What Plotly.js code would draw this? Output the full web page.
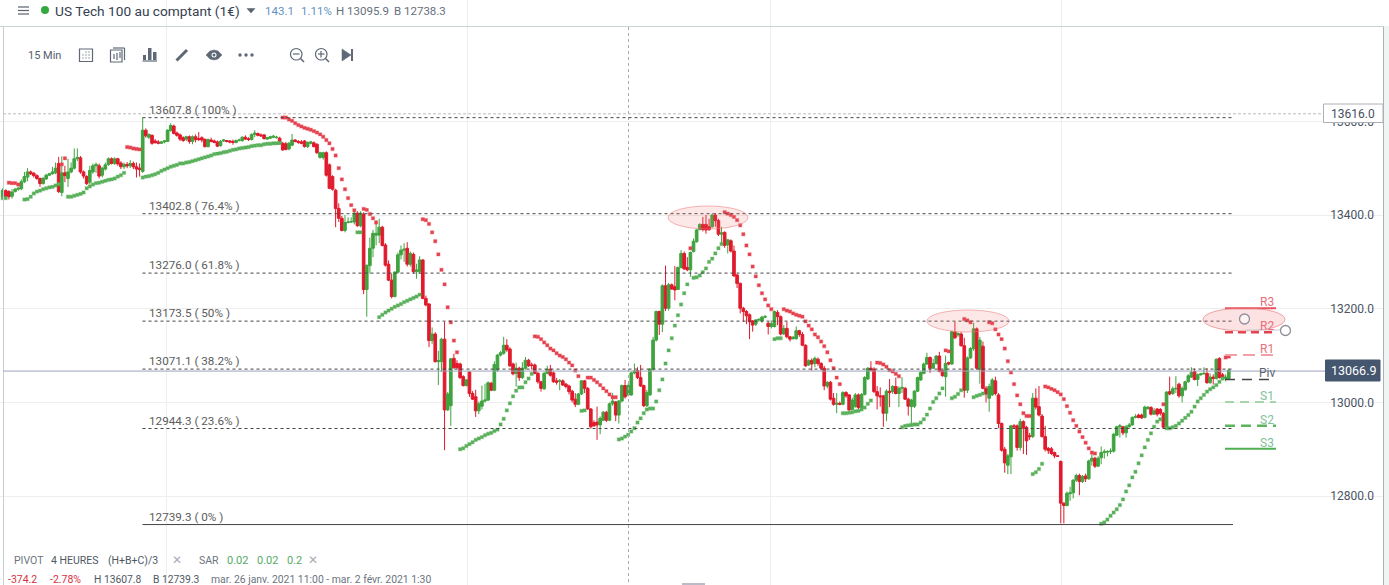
<!DOCTYPE html>
<html><head><meta charset="utf-8">
<script src="https://cdn.plot.ly/plotly-3.0.1.min.js"></script>
<style>html,body{margin:0;padding:0;background:#fff}#c{width:1389px;height:585px}</style>
</head><body><div id="c"></div>
<script>
const opens=[
13439,13452,13450,13440,13450,13455,13456,13471,13481,13492,
13489,13484,13478,13467,13477,13485,13488,13490,13510,13448,
13490,13478,13492,13500,13520,13522,13492,13482,13470,13492,
13505,13505,13485,13498,13508,13520,13510,13520,13511,13503,
13508,13505,13510,13503,13500,13493,13581,13566,13570,13558,
13556,13553,13556,13557,13580,13590,13575,13571,13565,13562,
13567,13557,13567,13563,13565,13561,13546,13560,13558,13556,
13548,13558,13559,13558,13557,13555,13559,13559,13566,13563,
13561,13572,13574,13571,13571,13562,13564,13566,13565,13564,
13553,13552,13541,13549,13560,13557,13556,13558,13546,13553,
13554,13551,13523,13523,13533,13507,13482,13453,13414,13393,
13367,13384,13385,13385,13404,13377,13402,13241,13292,13329,
13357,13357,13374,13336,13295,13261,13226,13278,13315,13325,
13329,13295,13316,13279,13279,13304,13222,13210,13132,13146,
13087,13087,13135,12984,12993,13094,13083,13082,13055,13036,
13065,13019,13012,12982,12992,13003,13005,13041,13026,13069,
13101,13105,13122,13114,13082,13062,13073,13053,13073,13090,
13080,13080,13062,13044,13029,13062,13071,13063,13046,13045,
13046,13039,13035,13024,13007,12996,13018,13046,13030,12986,
12957,12958,12952,12962,12979,12962,12997,13001,12973,13003,
13036,13016,13016,13063,13068,13053,13036,12993,13016,13071,
13133,13194,13167,13249,13201,13251,13247,13241,13288,13318,
13288,13283,13322,13343,13369,13380,13380,13375,13375,13400,
13388,13359,13363,13336,13345,13323,13272,13254,13201,13194,
13187,13174,13167,13176,13174,13182,13169,13162,13162,13192,
13183,13146,13158,13140,13136,13136,13153,13145,13122,13080,
13090,13083,13092,13083,13073,13035,13043,13009,12996,12998,
12996,13021,13016,12985,12991,13016,12989,13017,13050,13073,
13071,13023,13014,13014,12977,13024,13023,13034,13019,13030,
13030,13007,12991,12992,13024,13048,13062,13082,13096,13073,
13083,13099,13068,13055,13085,13082,13150,13144,13146,13121,
13026,13095,13115,13157,13071,13120,13030,13009,13016,13046,
13016,12955,12900,12866,12884,12950,12950,12904,12959,12947,
12929,12927,13009,12991,12971,12927,12902,12901,12893,12886,
12874,12785,12780,12805,12807,12834,12844,12831,12843,12837,
12875,12881,12864,12882,12893,12894,12895,12896,12930,12948,
12948,12935,12948,12952,12968,12973,12973,12968,12987,12989,
12975,12986,12985,12977,12947,13023,13019,13029,13039,13014,
13027,13044,13054,13066,13049,13059,13061,13062,13042,13054,
13051,13094,13059,13051,13051];
const highs=[
13457,13455,13453,13455,13458,13460,13476,13492,13500,13495,
13492,13487,13480,13481,13488,13490,13503,13512,13524,13525,
13505,13520,13512,13542,13542,13526,13495,13485,13505,13510,
13512,13510,13503,13512,13523,13523,13523,13522,13515,13512,
13513,13517,13514,13512,13510,13608,13585,13574,13572,13562,
13560,13558,13560,13583,13596,13593,13578,13574,13568,13569,
13570,13570,13572,13577,13568,13564,13563,13565,13561,13559,
13560,13562,13560,13560,13561,13561,13563,13568,13570,13566,
13574,13581,13576,13574,13573,13567,13569,13571,13569,13567,
13556,13556,13556,13573,13562,13560,13560,13560,13557,13558,
13557,13553,13535,13535,13536,13510,13485,13456,13425,13398,
13400,13395,13395,13408,13408,13408,13406,13295,13352,13368,
13389,13392,13377,13340,13303,13275,13280,13320,13335,13340,
13342,13322,13320,13296,13312,13306,13228,13212,13160,13150,
13110,13138,13172,13022,13095,13104,13090,13085,13058,13050,
13066,13024,13027,13002,13036,13040,13045,13044,13088,13103,
13110,13140,13135,13118,13085,13085,13076,13086,13097,13093,
13085,13083,13065,13046,13065,13078,13080,13066,13052,13050,
13049,13042,13038,13027,13020,13020,13048,13048,13033,12988,
12962,12991,12970,12982,12982,13000,13020,13003,13005,13038,
13048,13040,13066,13083,13075,13080,13038,13027,13073,13140,
13196,13196,13252,13292,13255,13254,13291,13290,13325,13322,
13310,13322,13350,13370,13382,13396,13400,13392,13402,13404,
13392,13375,13365,13349,13348,13335,13274,13256,13204,13197,
13190,13176,13178,13180,13185,13187,13172,13175,13196,13197,
13186,13165,13172,13142,13142,13162,13155,13150,13124,13092,
13094,13098,13096,13086,13078,13045,13046,13020,13020,13002,
13024,13024,13018,13010,13020,13019,13020,13056,13075,13088,
13075,13035,13032,13016,13028,13050,13037,13053,13034,13054,
13033,13010,13008,13026,13055,13066,13085,13106,13098,13093,
13101,13108,13070,13100,13087,13153,13172,13150,13150,13138,
13098,13118,13170,13160,13140,13130,13035,13040,13052,13055,
13020,12957,12905,12890,12952,12954,12953,12965,12962,12950,
12935,13020,13030,13035,12975,12950,12905,12905,12895,12887,
12876,12787,12810,12820,12836,12848,12848,12845,12848,12878,
12890,12884,12885,12906,12900,12898,12902,12935,12950,12954,
12950,12952,12956,12970,12975,12976,12976,12993,12992,12992,
12988,12988,12988,12979,13024,13055,13034,13056,13042,13034,
13046,13060,13075,13072,13062,13063,13075,13073,13062,13060,
13094,13096,13063,13060,13072];
const lows=[
13436,13436,13433,13435,13448,13452,13453,13468,13472,13485,
13480,13475,13460,13465,13475,13483,13486,13487,13447,13440,
13470,13460,13489,13497,13515,13488,13478,13464,13465,13488,
13490,13478,13480,13495,13505,13508,13507,13505,13498,13498,
13500,13500,13498,13480,13482,13490,13565,13562,13550,13552,
13551,13552,13553,13556,13578,13572,13567,13558,13556,13558,
13552,13551,13555,13558,13555,13544,13544,13555,13553,13545,
13546,13556,13555,13553,13550,13553,13557,13556,13560,13558,
13559,13566,13568,13567,13561,13560,13562,13564,13563,13550,
13537,13538,13538,13547,13555,13552,13551,13544,13543,13551,
13544,13530,13520,13518,13482,13455,13452,13374,13385,13365,
13363,13382,13383,13380,13375,13374,13231,13183,13275,13310,
13335,13340,13333,13290,13259,13222,13224,13275,13305,13300,
13290,13290,13275,13264,13275,13220,13205,13118,13125,13085,
13037,13065,12898,12982,12950,13072,13072,13050,13034,13034,
13012,13005,12969,12975,12985,13000,13003,13024,13024,13065,
13098,13102,13108,13076,13058,13034,13046,13050,13070,13076,
13070,13060,13040,13023,13027,13060,13055,13042,13038,13026,
13035,13030,13017,13000,12990,12994,13016,13020,12984,12944,
12948,12920,12932,12960,12958,12960,12993,12960,12955,13000,
13008,13013,13014,13060,13050,13033,12990,12990,13014,13068,
13130,13144,13150,13195,13196,13240,13218,13240,13286,13283,
13280,13268,13320,13341,13367,13365,13360,13366,13373,13375,
13355,13340,13330,13318,13320,13268,13244,13190,13172,13167,
13135,13151,13163,13172,13170,13180,13145,13158,13160,13165,
13143,13144,13137,13130,13134,13134,13140,13120,13076,13078,
13068,13075,13078,13068,13026,13030,13004,12993,12977,12994,
12994,13010,12982,12983,12989,12986,12987,13015,13048,13066,
13020,12985,12991,12948,12960,12990,13018,13017,12990,13020,
13005,12972,12948,12988,13022,13046,13060,13080,13063,13071,
13081,13064,13055,13012,13079,13080,13135,13140,13119,13010,
13020,13093,13110,13070,13040,13028,13000,12980,13014,13015,
12945,12895,12850,12847,12847,12945,12897,12897,12890,12888,
12920,12924,12985,12970,12925,12895,12890,12888,12881,12884,
12742,12742,12778,12790,12795,12830,12802,12828,12830,12835,
12865,12860,12862,12868,12880,12885,12890,12893,12928,12925,
12930,12925,12946,12950,12966,12966,12965,12966,12984,12972,
12973,12970,12972,12944,12945,13015,13016,13020,13010,13000,
13025,13042,13052,13047,13035,13057,13059,13040,13040,13038,
13049,13051,13050,13045,13049];
const closes=[
13453,13439,13439,13449,13455,13457,13471,13482,13492,13488,
13484,13478,13467,13478,13485,13488,13492,13500,13450,13490,
13484,13492,13500,13520,13523,13492,13483,13467,13495,13505,
13508,13483,13500,13507,13520,13510,13520,13509,13503,13508,
13505,13510,13503,13498,13497,13581,13569,13572,13553,13555,
13553,13556,13558,13581,13591,13574,13570,13562,13559,13567,
13557,13567,13561,13561,13560,13546,13561,13557,13555,13547,
13557,13560,13557,13556,13555,13559,13560,13566,13562,13561,
13572,13575,13570,13569,13563,13565,13567,13568,13566,13552,
13539,13540,13553,13560,13557,13555,13553,13546,13555,13556,
13546,13533,13533,13533,13485,13457,13455,13414,13393,13367,
13384,13385,13386,13404,13377,13404,13241,13292,13329,13361,
13361,13374,13335,13293,13261,13226,13278,13315,13325,13327,
13295,13318,13279,13283,13304,13222,13208,13132,13146,13087,
13089,13135,12984,13018,13093,13074,13074,13053,13036,13048,
13019,13007,12982,12997,13003,13005,13042,13026,13081,13101,
13106,13122,13112,13078,13061,13073,13053,13073,13090,13078,
13079,13062,13044,13030,13062,13071,13058,13044,13043,13046,
13037,13034,13023,13005,12996,13018,13046,13030,12986,12948,
12950,12952,12966,12979,12962,12997,13003,12973,13003,13036,
13012,13036,13063,13067,13053,13035,12993,13021,13071,13133,
13194,13167,13249,13201,13251,13242,13240,13288,13318,13285,
13283,13320,13344,13368,13380,13369,13368,13369,13400,13388,
13359,13362,13335,13347,13323,13270,13254,13201,13194,13185,
13172,13165,13176,13177,13182,13183,13162,13168,13194,13183,
13146,13158,13140,13135,13139,13153,13145,13122,13078,13089,
13082,13094,13083,13073,13035,13043,13007,12996,12998,12996,
13021,13014,12984,13005,13016,12989,13017,13053,13073,13069,
13023,13014,13012,12977,13024,13021,13034,13019,13030,13032,
13007,12992,13005,13024,13053,13064,13082,13096,13073,13083,
13099,13066,13057,13083,13082,13151,13138,13147,13121,13026,
13095,13115,13157,13073,13133,13030,13018,13034,13048,13019,
12955,12898,12871,12886,12950,12948,12904,12959,12945,12918,
12927,13009,12990,12973,12927,12900,12897,12891,12886,12885,
12785,12780,12806,12807,12834,12844,12831,12842,12837,12875,
12881,12864,12881,12893,12895,12895,12896,12932,12948,12950,
12935,12948,12952,12968,12970,12968,12967,12990,12990,12975,
12982,12975,12977,12947,13022,13018,13029,13030,13014,13030,
13044,13057,13064,13049,13059,13061,13062,13042,13054,13051,
13092,13053,13053,13054,13069];

// SAR dots: [first candle index, values...]
const sarRedRuns=[
[2,[13469,13468,13468,13465]],
[19,[13508,13521]],
[40,[13545,13544,13542,13541,13540]],
[90,[13608,13608,13604,13601,13596,13592,13589,13586,13584,13582,13579,13576,13572,13567,13560,13553,13541,13527,13500,13476,13455,13436,13421,13410]],
[116,[13413,13411,13402,13393,13384]],
[135,[13391,13389,13381,13363,13344,13316,13283,13252,13203,13171,13132,13107]],
[171,[13141,13140,13135,13128,13122,13115,13111,13105,13100,13097,13092,13085,13079,13068,13056]],
[188,[13053,13053,13048,13043,13037,13030,13024,13017,13011,13011]],
[221,[13329]],
[232,[13406,13403,13400,13396,13389,13378,13359,13335,13316,13290,13269,13250,13233,13220,13207,13199]],
[251,[13199,13196,13194,13190,13187,13185,13183,13173,13164,13156,13145,13139,13130,13120,13107,13090,13073,13053,13039]],
[281,[13085,13084,13081,13076,13069,13066,13061,13056]],
[303,[13111,13109]],
[309,[13178,13175,13171]],
[317,[13171,13169,13156,13145,13135,13115,13088,13064,13039,13015,12996,12977,12971,12971]],
[335,[13034,13032,13029,13026,13022,13017,13007,12992,12978,12962,12950,12938,12926,12914,12902,12893,12891]],
[373,[12996]],
[393,[13096,13098]]];
const sarGreenRuns=[
[0,[13436,13436]],
[7,[13433,13434,13439,13446,13450,13452,13455,13457,13459,13460,13463,13466]],
[21,[13439,13439,13441,13443,13445,13448,13457,13461,13465,13468,13469,13471,13473,13475,13476,13478,13482,13485,13490]],
[45,[13480,13482,13483,13485,13487,13490,13494,13497,13500,13503,13505,13507,13510,13510,13512,13513,13515,13517,13519,13521,13523,13525,13527,13530,13531,13532,13534,13535,13537,13539,13540,13542,13543,13544,13545,13547,13548,13549,13549,13551,13552,13552,13553,13553,13554]],
[114,[13363,13363]],
[121,[13182,13187,13192,13196,13200,13204,13207,13210,13214,13217,13220,13223,13226,13230]],
[147,[12900,12902,12907,12911,12915,12920,12923,12926,12930,12933,12935,12939,12942,12953,12965,12983,12998,13013,13025,13032,13032,13043,13051,13061]],
[186,[12982,12983]],
[198,[12921,12923,12927,12931,12938,12945,12957,12966,12977,12985,12987,12987,13002,13026,13049,13083,13111,13137,13164,13186,13209,13233,13252]],
[222,[13266,13267,13271,13278,13286,13300,13307,13318,13329,13338]],
[248,[13135,13137,13137]],
[270,[12977,12977,12978,12979,12981,12982,12985,12989,12997,13004]],
[289,[12947,12950,12951,12952,12953,12953,12957,12964,12974,12987,13001,13009,13019,13030]],
[305,[13009,13012,13018,13026]],
[312,[13011,13014,13016,13019]],
[331,[12847,12851,12858,12869]],
[353,[12741,12744,12750,12758,12765,12772,12781,12793,12810,12823,12840,12852,12870,12887,12904,12920,12934,12948,12959,12964]],
[374,[12945,12945,12947,12950,12955,12961,12967,12973,12980,12991,13002,13009,13016,13023,13028,13032,13037,13044,13051]]];

const fibLevels=[13607.8,13402.8,13276.0,13173.5,13071.1,12944.3,12739.3];
const fibLabels=['13607.8 ( 100% )','13402.8 ( 76.4% )','13276.0 ( 61.8% )','13173.5 ( 50% )','13071.1 ( 38.2% )','12944.3 ( 23.6% )','12739.3 ( 0% )'];
const pivotNames=['R3','R2','R1','Piv','S1','S2','S3'];
const pivotLevels=[13201,13150,13101,13049,13001,12950,12901];
const pivotColors=['#e5535f','#e5404e','#f0a0a6','#444444','#a5d6a8','#5cb45e','#4fae52'];
const pivotLabelColors=['#e8707a','#e8707a','#e8707a','#5a6270','#7fbf9a','#7fbf9a','#7fbf9a'];
const pivotWidths=[2,2.5,2,1.5,2,2.5,2];
const pivotDash=['solid','8px,5px','12px,6px','10px,7px','9px,6px','10px,6px','solid'];
const yTicks=[12800,13000,13200,13400,13600];
const dayGrid=[52.8,149.5,246.6,340.1,437.2];
const lastPrice=13066.9, markerPrice=13616.0;

const W=1389,H=585;
const px=x=>x/W, py=y=>1-y/H;
const idx=p=>(p-2.66)/3.112;
const i_=opens.map((_,i)=>i);
if(![highs,lows,closes].every(a=>a.length===opens.length)) console.error('length mismatch',opens.length,highs.length,lows.length,closes.length);
function expand(runs){const x=[],y=[];runs.forEach(r=>r[1].forEach((v,k)=>{x.push(r[0]+k);y.push(v);}));return{x,y};}
const red=expand(sarRedRuns),green=expand(sarGreenRuns);

const traces=[
{type:'candlestick',x:i_,open:opens,high:highs,low:lows,close:closes,hoverinfo:'skip',whiskerwidth:0,
 increasing:{line:{color:'#3fa33f',width:1},fillcolor:'#3fa33f'},
 decreasing:{line:{color:'#e01a2c',width:1},fillcolor:'#e01a2c'}},
{type:'scatter',mode:'markers',x:red.x,y:red.y,hoverinfo:'skip',
 marker:{symbol:'square',size:3.2,color:'#e5414e',line:{color:'rgba(229,65,78,.3)',width:1.2}}},
{type:'scatter',mode:'markers',x:green.x,y:green.y,hoverinfo:'skip',
 marker:{symbol:'square',size:3.2,color:'#58b05a',line:{color:'rgba(88,176,90,.3)',width:1.2}}}
];

const shapes=[], ann=[];
function pline(x0,y0,x1,y1,c,w,d,layer){shapes.push({type:'line',xref:'paper',yref:'paper',x0:px(x0),y0:py(y0),x1:px(x1),y1:py(y1),line:{color:c,width:w||1,dash:d||'solid'},layer:layer||'above'});}
function prect(x0,y0,x1,y1,fill,lc,lw){shapes.push({type:'rect',xref:'paper',yref:'paper',x0:px(x0),y0:py(y0),x1:px(x1),y1:py(y1),fillcolor:fill||'rgba(0,0,0,0)',line:{color:lc||'rgba(0,0,0,0)',width:lw===undefined?1:lw}});}
function pcirc(x0,y0,x1,y1,fill,lc,lw){shapes.push({type:'circle',xref:'paper',yref:'paper',x0:px(x0),y0:py(y0),x1:px(x1),y1:py(y1),fillcolor:fill||'rgba(0,0,0,0)',line:{color:lc||'rgba(0,0,0,0)',width:lw===undefined?1:lw}});}
function ppath(pts,fill,lc,lw,closed){const d=pts.map((p,i)=>(i?'L':'M')+px(p[0])+' '+py(p[1])).join(' ')+(closed?' Z':'');shapes.push({type:'path',xref:'paper',yref:'paper',path:d,fillcolor:fill||'rgba(0,0,0,0)',line:{color:lc||'rgba(0,0,0,0)',width:lw===undefined?1:lw}});}
function txt(x,y,t,size,color,anchor,fam){ann.push({xref:'paper',yref:'paper',x:px(x),y:py(y),text:t,showarrow:false,xanchor:anchor||'left',yanchor:'middle',font:{family:fam||'Roboto, sans-serif',size:size,color:color},borderpad:0,borderwidth:0});}

// frame
prect(1384,26,1389,585,'#eef5f3','#eef5f3',0);
pline(0,26.5,1384,26.5,'#c8d6d3',1);
pline(3.5,27,3.5,585,'#c9cdcd',1);
pline(1383.5,27,1383.5,585,'#aeaeb4',1);
// crosshair
pline(628.5,27,628.5,583,'#a9a9bb',1,'3px,3px');
pline(682,584,705,584,'#a5a3b5',1.5);
// last-price and marker lines
shapes.push({type:'line',xref:'paper',yref:'y',x0:px(3),x1:px(1325),y0:lastPrice,y1:lastPrice,line:{color:'#9aa3b8',width:1}});
shapes.push({type:'line',xref:'paper',yref:'y',x0:px(3),x1:px(1323),y0:markerPrice,y1:markerPrice,line:{color:'#bdbdbd',width:1,dash:'3px,2px'}});
// Fibonacci retracement
fibLevels.forEach((v,i)=>{
 const solid=i===fibLevels.length-1;
 shapes.push({type:'line',xref:'x',yref:'y',x0:idx(142.5),x1:idx(solid?1233:1232),y0:v,y1:v,line:{color:'#444',width:1,dash:solid?'solid':'3px,3px'}});
 ann.push({xref:'x',yref:'y',x:idx(147.5),y:v,text:fibLabels[i],showarrow:false,xanchor:'left',yanchor:'bottom',yshift:0,font:{family:'Roboto, sans-serif',size:11.7,color:'#5c5c5c'},borderpad:0});
});
// Pivot levels
pivotLevels.forEach((v,i)=>{
 shapes.push({type:'line',xref:'x',yref:'y',x0:idx(1225),x1:idx(1276),y0:v,y1:v,line:{color:pivotColors[i],width:pivotWidths[i],dash:pivotDash[i]}});
 ann.push({xref:'x',yref:'y',x:idx(1267),y:v,text:pivotNames[i],showarrow:false,xanchor:'center',yanchor:'bottom',yshift:-2,font:{family:'Roboto, sans-serif',size:12,color:pivotLabelColors[i]},borderpad:0});
});
// Highlight ellipses
pcirc(668,206,748,229,'rgba(240,110,110,.16)','rgba(235,120,120,.55)',1);
pcirc(927,310,1009,332,'rgba(240,110,110,.16)','rgba(235,120,120,.55)',1);
pcirc(1203,308,1285,331,'rgba(240,110,110,.2)','rgba(235,120,120,.65)',1);
pline(1245,330,1280,330,'#c9c9d2',1);
pcirc(1239.5,314,1249.5,324,'rgba(255,255,255,.6)','#8f8f9c',1.3);
pcirc(1280.5,325.5,1290.5,335.5,'rgba(255,255,255,.8)','#8f8f9c',1.3);
// price boxes
prect(1323.5,104,1383,122.5,'#ffffff','#aeaeb8',1);
ann.push({xref:'paper',yref:'paper',x:px(1353),y:py(114),text:'13616.0',showarrow:false,xanchor:'center',yanchor:'middle',font:{family:'Roboto, sans-serif',size:12,color:'#46505e'}});
shapes.push({type:'rect',xref:'paper',yref:'paper',x0:px(1325.5),x1:px(1380),y0:py(360),y1:py(381),fillcolor:'#45566f',line:{color:'#45566f',width:1}});
ann.push({xref:'paper',yref:'paper',x:px(1353),y:py(370.5),text:'13066.9',showarrow:false,xanchor:'center',yanchor:'middle',font:{family:'Roboto, sans-serif',size:12.5,color:'#ffffff'}});

// header
const ic='#5f6876';
[7,10.5,14].forEach(y=>pline(18,y,29,y,'#596270',1.2));
pcirc(41,6,49,14,'#35a83f','#35a83f',0);
txt(54.5,10.5,'US Tech 100 au comptant (1€)',13.7,'#36404f');
ppath([[247,8.5],[255,8.5],[251,13]],'#5a6270','#5a6270',.5,true);
txt(265,11,'143.1',11.5,'#5f93c4');
txt(301,11,'1.11%',11.5,'#5f93c4');
txt(336,11,'H 13095.9',11.5,'#66707c');
txt(394,11,'B 12738.3',11.5,'#66707c');
// toolbar
txt(28,56,'15 Min',11,'#56606e');
shapes.push({type:'rect',xref:'paper',yref:'paper',x0:px(79.5),x1:px(92.5),y0:py(49),y1:py(61.5),line:{color:ic,width:1.2},fillcolor:'rgba(0,0,0,0)'});
[[83,55],[86,55],[89,55],[83,58],[86,58],[89,58],[86,52],[89,52]].forEach(p=>prect(p[0]-.6,p[1]-.6,p[0]+.6,p[1]+.6,ic,ic,0));
prect(110.5,50,122,62,'rgba(0,0,0,0)',ic,1.2);
pline(113,48,124.5,48,ic,1.2);pline(124.5,48,124.5,60,ic,1.2);
pline(114,54,114,59,ic,1.2);pline(117,53,117,60,ic,1.2);pline(120,52,120,58,ic,1.2);
prect(143,55,146,60,ic,ic,0);prect(148,48,151.5,60,ic,ic,0);prect(153,52,156.5,60,ic,ic,0);pline(142.5,61,157,61,ic,1.2);
pline(176.5,60.5,187,50,ic,3);
ppath([[206,55],[210,51],[214,50],[218,51],[222,55],[218,59],[214,60],[210,59]],ic,ic,.5,true);
pcirc(211.5,52.5,216.5,57.5,'#ffffff','#ffffff',0);pcirc(212.5,53.5,215.5,56.5,ic,ic,0);
[240,246,252].forEach(x=>pcirc(x-1.7,53.3,x+1.7,56.7,ic,ic,0));
pcirc(290.5,48.5,302,60,'rgba(0,0,0,0)',ic,1.2);pline(293,54,299.5,54,ic,1.2);pline(300.5,58.5,304,62,ic,1.6);
pcirc(315.5,48.5,327,60,'rgba(0,0,0,0)',ic,1.2);pline(318,54,324.5,54,ic,1.2);pline(321,51,321,57.5,ic,1.2);pline(325.5,58.5,329,62,ic,1.6);
ppath([[342,49],[351,55],[342,61]],ic,ic,.5,true);prect(351,49,353,61,ic,ic,0);
// bottom legend
txt(14,560,'PIVOT',10.5,'#6c7480');
txt(51,560,'4 HEURES',10.5,'#4f5864');
txt(108,560,'(H+B+C)/3',10.5,'#4f5864');
txt(177,560,'✕',12,'#a9adb5','center','DejaVu Sans');
txt(199,560,'SAR',10.5,'#6c7480');
txt(227,560,'0.02',11,'#55aa66');
txt(257,560,'0.02',11,'#55aa66');
txt(287,560,'0.2',11,'#55aa66');
txt(313,560,'✕',12,'#a9adb5','center','DejaVu Sans');
txt(8,579.5,'-374.2',10.5,'#d8323f');
txt(50,579.5,'-2.78%',10.5,'#d8323f');
txt(94,579.5,'H 13607.8',10.3,'#4f5864');
txt(153,579.5,'B 12739.3',10.3,'#4f5864');
txt(211,579.5,'mar. 26 janv. 2021 11:00 - mar. 2 févr. 2021 1:30',10.4,'#6c7480');

const layout={
 width:W,height:H,margin:{l:0,r:0,t:0,b:0},paper_bgcolor:'#fff',plot_bgcolor:'#fff',showlegend:false,
 xaxis:{domain:[0,1383/W],range:[idx(0),idx(1383)],rangeslider:{visible:false},tickmode:'array',tickvals:dayGrid,showticklabels:false,ticks:'',
  showgrid:true,gridcolor:'#eeeeee',gridwidth:1,zeroline:false,showline:false,fixedrange:true},
 yaxis:{domain:[0,1],range:[12610.3,13858.9],side:'right',tickmode:'array',tickvals:yTicks,tickformat:'.1f',ticks:'',ticklabelposition:'inside',ticklabelstandoff:6,
  tickfont:{family:'Roboto, sans-serif',size:12,color:'#4a5462'},showgrid:true,gridcolor:'#eeeeee',gridwidth:1,zeroline:false,showline:false,fixedrange:true},
 boxgap:0.15,boxgroupgap:0,shapes:shapes,annotations:ann,hovermode:false,dragmode:false
};
Plotly.newPlot('c',traces,layout,{displayModeBar:false,staticPlot:true});
</script></body></html>
